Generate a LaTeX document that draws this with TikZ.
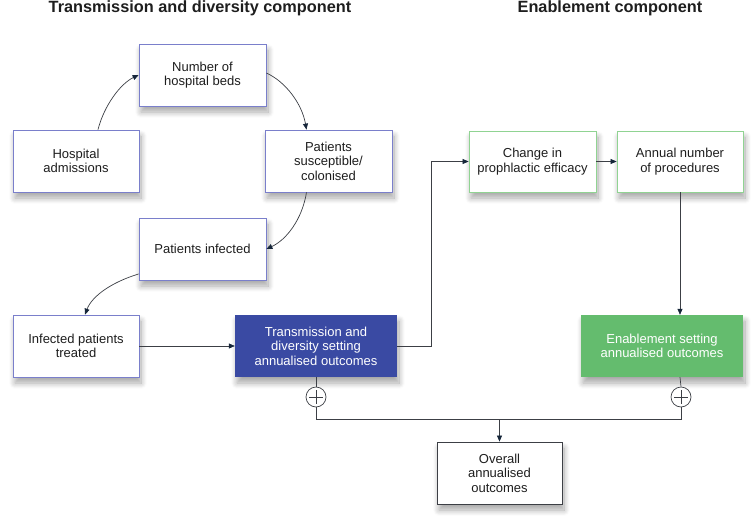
\documentclass[tikz,border=0pt]{standalone}
\usepackage{fontspec}
\setmainfont{Liberation Sans}
\usetikzlibrary{arrows.meta,shadows.blur}
\definecolor{bborder}{HTML}{7A7FCB}
\definecolor{bfill}{HTML}{3A4AA3}
\definecolor{gfill}{HTML}{64BC6E}
\definecolor{gborder}{HTML}{90D392}
\definecolor{lcol}{HTML}{3C3F45}
\definecolor{tipcol}{HTML}{16263A}
\definecolor{tcol}{HTML}{1E1E1E}
\begin{document}
\begin{tikzpicture}[x=1pt,y=-1pt,
  base/.style={rectangle, align=center, inner sep=0pt, font=\fontsize{13}{14.6}\selectfont,
    blur shadow={shadow xshift=2pt, shadow yshift=-6pt, shadow opacity=35, shadow blur steps=10, shadow blur radius=6pt}},
  bluebox/.style={base, draw=bborder, line width=0.8pt, fill=white, text=tcol},
  greenbox/.style={base, draw=gborder, line width=0.8pt, fill=white, text=tcol},
  bluefill/.style={base, fill=bfill, text=white},
  greenfill/.style={base, fill=gfill, text=white},
  blackbox/.style={base, draw=lcol, line width=0.8pt, fill=white, text=tcol},
  conn/.style={draw=lcol, line width=0.7pt, -{Triangle[length=6pt,width=5pt,fill=tipcol,color=tipcol]}},
  plain/.style={draw=lcol, line width=0.7pt},
  plus/.style={circle, draw=lcol, line width=0.7pt, fill=white, minimum size=20pt, inner sep=0pt,
    path picture={\draw[lcol, line width=0.7pt] ([yshift=-3pt]path picture bounding box.north) -- ([yshift=3pt]path picture bounding box.south)
      ([xshift=3pt]path picture bounding box.west) -- ([xshift=-3pt]path picture bounding box.east);}},
  title/.style={font=\fontsize{16.3}{19}\selectfont\bfseries, text=tcol, inner sep=0pt}
]
\useasboundingbox (0,0) rectangle (755,525);

\node[title] (t1) at (200,8) {Transmission and diversity component};
\node[title] (t2) at (610,8) {Enablement component};

\node[bluebox, minimum width=126pt, minimum height=62pt] (ha) at (76,161) {Hospital\\admissions};
\node[bluebox, minimum width=127pt, minimum height=62pt] (beds) at (202.5,75) {Number of\\hospital beds};
\node[bluebox, minimum width=127pt, minimum height=62pt] (susc) at (328.5,161) {Patients\\susceptible/\\colonised};
\node[bluebox, minimum width=127pt, minimum height=62pt] (inf) at (202.5,249) {Patients infected};
\node[bluebox, minimum width=126pt, minimum height=62pt] (tr) at (76,346) {Infected patients\\treated};
\node[bluefill, minimum width=162pt, minimum height=62pt] (td) at (316,346) {Transmission and\\diversity setting\\annualised outcomes};

\node[greenbox, minimum width=127pt, minimum height=61pt] (chg) at (532.5,161.5) {Change in\\prophlactic efficacy};
\node[greenbox, minimum width=126pt, minimum height=61pt] (ann) at (680,161.5) {Annual number\\of procedures};
\node[greenfill, minimum width=162pt, minimum height=62pt] (en) at (662,346) {Enablement setting\\annualised outcomes};

\node[blackbox, minimum width=125pt, minimum height=62pt] (ov) at (499.5,473) {Overall\\annualised\\outcomes};

\node[plus] (p1) at (316,397) {};
\node[plus] (p2) at (681,397) {};

% curved cycle
\draw[conn] ([xshift=22pt]ha.north) .. controls (104,106) and (120,84) .. (beds.west);
\draw[conn] ([yshift=2pt]beds.east) .. controls (286,82) and (302,104) .. ([xshift=-22pt]susc.north);
\draw[conn] ([xshift=-22pt]susc.south) .. controls (302,220) and (286,240) .. (inf.east);
\draw[conn] ([yshift=-25pt]inf.west) .. controls (112,282) and (92,296) .. ([xshift=9pt]tr.north);

% straight
\draw[conn] (tr.east) -- (td.west);
\coordinate (bend) at (431,346);
\draw[conn] (td.east) -- (bend) |- (chg.west);
\draw[conn] (chg.east) -- (ann.west);
\draw[conn] (ann.south) -- (ann.south |- en.north);

\draw[plain] (td.south) -- (p1.north);
\draw[plain] (ann.south |- en.south) -- (p2.north);
\coordinate (jl) at (316,419);
\coordinate (jr) at (681,419);
\coordinate (jm) at (ov.north |- jl);
\draw[plain] (p1.south) -- (jl) -- (jr) -- (p2.south);
\draw[conn] (jm) -- (ov.north);
\end{tikzpicture}
\end{document}
